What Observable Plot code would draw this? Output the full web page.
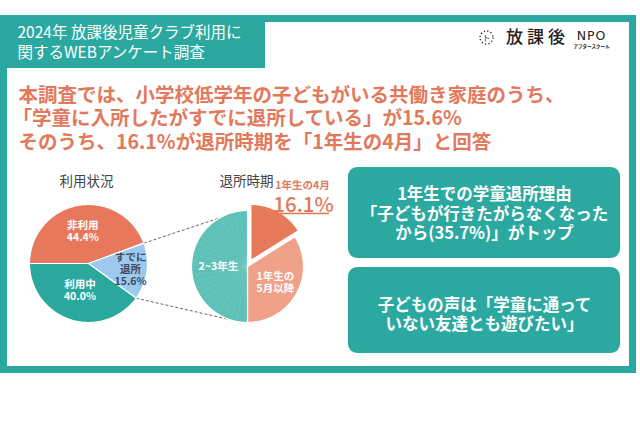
<!DOCTYPE html>
<html><head><meta charset="utf-8">
<script src="https://cdn.jsdelivr.net/npm/d3@7"></script>
<script src="https://cdn.jsdelivr.net/npm/@observablehq/plot@0.6"></script>
<style>
html,body{margin:0;padding:0;background:#fff;}
#chart svg{display:block;}
</style>
</head><body><div id="chart"></div>
<script>
// ---- data ----
const titleLines = ["2024年 放課後児童クラブ利用に", "関するWEBアンケート調査"];
const usageTitle = "利用状況";
const usageCategories = ["非利用", "すでに退所", "利用中"];
const usageValues = [44.4, 15.6, 40.0];
const usageLabels = ["非利用", "すでに\n退所", "利用中"];
const leaveTitle = "退所時期";
const leaveCategories = ["1年生の4月", "1年生の5月以降", "2~3年生"];
const leaveValues = [16.1, 33.9, 50.0];
const leaveLabels = ["", "1年生の\n5月以降", "2~3年生"];
const reasonShare = 35.7;
const boxTexts = [
  `1年生での学童退所理由\n「子どもが行きたがらなくなった\nから(${reasonShare}%)」がトップ`,
  "子どもの声は「学童に通って\nいない友達とも遊びたい」"
];
const headlineLines = [
  "本調査では、小学校低学年の子どもがいる共働き家庭のうち、",
  `「学童に入所したがすでに退所している」が${usageValues[1].toFixed(1)}%`,
  `そのうち、${leaveValues[0].toFixed(1)}%が退所時期を「${leaveCategories[0]}」と回答`
];
const categoryColors = ["#E8785B", "#9DC9EE", "#2BA89E", "#E67A5B", "#EFA189", "#5EC1B8"];

// ---- layout ----
const teal = "#2BA9A0", orange = "#E2795B";
const pie1 = {cx: 88, cy: 263, r: 59, start: -90, explode: [0, 0, 0], labelR: [0.55, 0.72, 0.47]};
const pie2 = {cx: 247, cy: 266, r: 56, start: 0, explode: [7, 0, 0], labelR: [0, 0.57, 0.52]};
const rad = Math.PI / 180;

function pieArcs(values, p) {
  return d3.pie().sort(null).startAngle(p.start * rad).endAngle(p.start * rad + 2 * Math.PI)(values);
}
function slicePoints(cats, values, p) {
  const pts = [];
  pieArcs(values, p).forEach((a, i) => {
    const mid = (a.startAngle + a.endAngle) / 2, off = p.explode[i];
    const ox = p.cx + off * Math.sin(mid), oy = p.cy - off * Math.cos(mid);
    pts.push({cat: cats[i], x: ox, y: oy});
    const n = Math.max(2, Math.ceil((a.endAngle - a.startAngle) / rad));
    for (let k = 0; k <= n; k++) {
      const t = a.startAngle + (a.endAngle - a.startAngle) * k / n;
      pts.push({cat: cats[i], x: ox + p.r * Math.sin(t), y: oy - p.r * Math.cos(t)});
    }
  });
  return pts;
}
// faint radial texture inside the largest slice of the second pie
function rays(values, p, idx) {
  const a = pieArcs(values, p)[idx], out = [];
  for (let t = a.startAngle + 4 * rad; t < a.endAngle - 2 * rad; t += 7 * rad)
    out.push({x1: p.cx, y1: p.cy, x2: p.cx + p.r * Math.sin(t), y2: p.cy - p.r * Math.cos(t)});
  return out;
}
function labelPoints(labels, values, p, withValue) {
  return pieArcs(values, p).map((a, i) => {
    const mid = (a.startAngle + a.endAngle) / 2, rr = p.r * p.labelR[i] + p.explode[i];
    return {x: p.cx + rr * Math.sin(mid), y: p.cy - rr * Math.cos(mid),
            text: withValue ? `${labels[i]}\n${values[i].toFixed(1)}%` : labels[i], i};
  }).filter(d => d.text);
}
const usageArcs = pieArcs(usageValues, pie1);
const sel = usageArcs[1];
const rim = (p, a) => ({x: p.cx + p.r * Math.sin(a), y: p.cy - p.r * Math.cos(a)});
const links = [
  {a: rim(pie1, sel.startAngle), b: rim(pie2, -7 * rad)},
  {a: rim(pie1, sel.endAngle), b: rim(pie2, 187 * rad)}
];
const usageLabelPts = labelPoints(usageLabels, usageValues, pie1, true);
const leaveLabelPts = labelPoints(leaveLabels, leaveValues, pie2, false);

const font = "'Noto Sans CJK JP', sans-serif";
const chart = Plot.plot({
  width: 640, height: 426, margin: 0,
  style: {fontFamily: font, background: "white"},
  x: {domain: [0, 640], axis: null},
  y: {domain: [0, 426], range: [0, 426], axis: null},
  color: {domain: [...usageCategories, ...leaveCategories], range: categoryColors},
  marks: [
    // frame and title box
    Plot.rect([0], {x1: 3.5, x2: 632.5, y1: 18.5, y2: 369.5, fill: "white", stroke: teal, strokeWidth: 7}),
    Plot.rect([0], {x1: 0, x2: 265, y1: 15, y2: 68, fill: teal}),
    Plot.text(titleLines, {x: 17, y: (d, i) => 33 + i * 19.5, text: d => d, textAnchor: "start", fill: "white", fontSize: 15.5}),
    // logo
    Plot.dot([0], {x: 486, y: 37, r: 6.5, stroke: "#222", strokeWidth: 1.4, strokeDasharray: "1.2,2.2", fill: "none"}),
    Plot.text(["ト"], {x: 486, y: 38, text: d => d, fontSize: 8, fill: "#222"}),
    Plot.text(["放課後"], {x: 537, y: 37, text: d => d, fontSize: 17, fill: "#222", fontWeight: 500}),
    Plot.text(["NPO"], {x: 591, y: 35, text: d => d, fontSize: 12.5, fill: "#222", fontFamily: "'DejaVu Sans', sans-serif"}),
    Plot.text(["アフタースクール"], {x: 591, y: 46, text: d => d, fontSize: 4.5, fill: "#222", fontWeight: 700}),
    // headline
    Plot.text(headlineLines, {x: (d, i) => i === 1 ? 12 : 18, y: (d, i) => 95 + i * 23.5, text: d => d, textAnchor: "start", fill: orange, fontSize: 19.5, fontWeight: 700}),
    // pie titles
    Plot.text([usageTitle], {x: pie1.cx - 2, y: 181, text: d => d, fontSize: 13.5, fill: "#444"}),
    Plot.text([leaveTitle], {x: pie2.cx - 1, y: 181, text: d => d, fontSize: 13.5, fill: "#444"}),
    // connector lines
    Plot.link(links, {x1: d => d.a.x, y1: d => d.a.y, x2: d => d.b.x, y2: d => d.b.y, stroke: "#666", strokeWidth: 1, strokeDasharray: "3,2"}),
    // pies
    Plot.line(slicePoints(usageCategories, usageValues, pie1), {x: "x", y: "y", z: "cat", fill: "cat", stroke: "white", strokeWidth: 1.2, curve: "linear-closed"}),
    Plot.line(slicePoints(leaveCategories, leaveValues, pie2), {x: "x", y: "y", z: "cat", fill: "cat", stroke: "white", strokeWidth: 1.2, curve: "linear-closed"}),
    Plot.link(rays(leaveValues, pie2, 2), {x1: "x1", y1: "y1", x2: "x2", y2: "y2", stroke: "white", strokeOpacity: 0.07, strokeWidth: 1}),
    // pie labels
    Plot.text(usageLabelPts.filter(d => d.i !== 1), {x: "x", y: "y", text: "text", fill: "white", fontSize: 10.5, fontWeight: 700, lineHeight: 1.15}),
    Plot.text(usageLabelPts.filter(d => d.i === 1), {x: "x", y: "y", text: "text", fill: "#3C4A5E", fontSize: 10.5, fontWeight: 700, lineHeight: 1.12}),
    Plot.text(leaveLabelPts, {x: "x", y: "y", text: "text", fill: "white", fontSize: 10.5, fontWeight: 700, lineHeight: 1.15}),
    // highlight annotation
    Plot.text([leaveCategories[0]], {x: 302, y: 185, text: d => d, fill: orange, fontSize: 10.5, fontWeight: 700}),
    Plot.text([leaveValues[0]], {x: 303, y: 204.5, text: d => d.toFixed(1) + "%", fill: orange, fontSize: 20.5, fontWeight: 500}),
    Plot.ruleY([213], {x1: 277, x2: 329, stroke: orange, strokeWidth: 1.5}),
    // right boxes
    Plot.rect(boxTexts, {x1: 348, x2: 620, y1: (d, i) => [167, 267][i], y2: (d, i) => [258, 353][i], rx: 9, fill: teal}),
    Plot.text(boxTexts, {x: 484, y: (d, i) => [213, 314][i], text: d => d, fill: "white", fontSize: 16.5, fontWeight: 700, lineHeight: 1.18})
  ]
});
document.getElementById("chart").appendChild(chart);
d3.select(chart).selectAll("text").filter(function() { return this.textContent === "放課後"; }).attr("letter-spacing", "4px");
d3.select(chart).selectAll("text").filter(function() { return this.textContent === "NPO"; }).attr("letter-spacing", "1px");
</script>
</body></html>
